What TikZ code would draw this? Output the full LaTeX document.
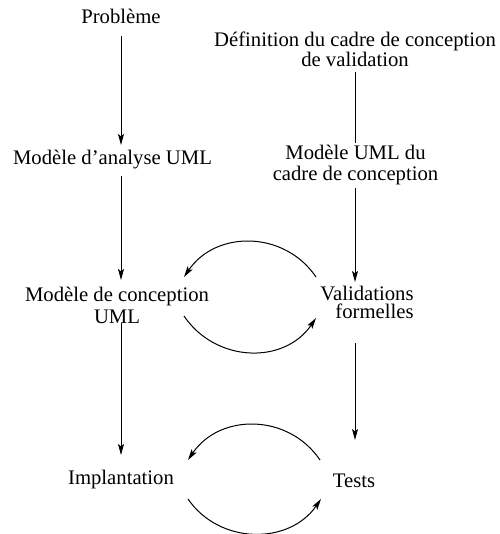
\documentclass[tikz,border=0pt]{standalone}
\usepackage{fontspec}
\setmainfont{Liberation Serif}
\usetikzlibrary{arrows.meta,calc}
\begin{document}
\begin{tikzpicture}[x=0.5pt,y=-0.5pt,
  lbl/.style={inner sep=0pt, anchor=base, font=\fontsize{10.35}{10}\selectfont, align=center},
  arr/.style={-{Stealth[length=5.5pt,width=3pt,inset=1.2pt]}, line width=0.5pt},
  ln/.style={line width=0.5pt}]
\useasboundingbox (0,0) rectangle (499,534);
% left column (multi-line nodes are placed by the baseline of their last line)
\node[lbl] (prob) at (121,24) {Problème};
\node[lbl] (ana) at (112.5,165) {Modèle d’analyse UML};
\node[lbl] (conc) at (117,323) {Modèle de conception\\[1pt]UML};
\node[lbl] (impl) at (121,484) {Implantation};
% right column
\node[lbl] (def) at (355,67) {Définition du cadre de conception\\de validation};
\node[lbl] (cad) at (355.5,180) {Modèle UML du\\cadre de conception};
\node[lbl, anchor=base east, align=right] (val) at (414,318) {Validations\\[-1pt]formelles};
\node[lbl] (tests) at (354,487) {Tests};
% vertical connectors, left
\draw[arr] ($(prob.base)+(0,12)$) -- ($(prob.base |- ana.base)+(0,-20)$);
\draw[arr] ($(prob.base |- ana.base)+(0,11)$) -- ($(prob.base |- conc.base)+(0,-43)$);
\draw[arr] ($(prob.base |- conc.base)+(0,0)$) -- ($(prob.base |- impl.base)+(0,-29)$);
% vertical connectors, right
\draw[ln] ($(def.base)+(0,5)$) -- ($(def.base |- cad.base)+(0,-37)$);
\draw[arr] ($(def.base |- cad.base)+(0,8)$) -- ($(def.base |- val.base)+(0,-36)$);
\draw[arr] ($(def.base |- val.base)+(0,25)$) -- ($(def.base |- tests.base)+(0,-47)$);
% loops
\coordinate (u1s) at (316,277); \coordinate (u1e) at (184,277);
\coordinate (u2s) at (184,316); \coordinate (u2e) at (316,318);
\coordinate (l1s) at (320,460); \coordinate (l1e) at (188,460);
\coordinate (l2s) at (188,499); \coordinate (l2e) at (321,499);
\draw[arr] (u1s) .. controls +(-31.7,-46.8) and +(31.7,-46.8) .. (u1e);
\draw[arr] (u2s) .. controls +(31.7,46.8) and +(-31.7,46.8) .. (u2e);
\draw[arr] (l1s) .. controls +(-31.7,-46.8) and +(31.7,-46.8) .. (l1e);
\draw[arr] (l2s) .. controls +(31.7,46) and +(-31.7,46) .. (l2e);
\end{tikzpicture}
\end{document}
